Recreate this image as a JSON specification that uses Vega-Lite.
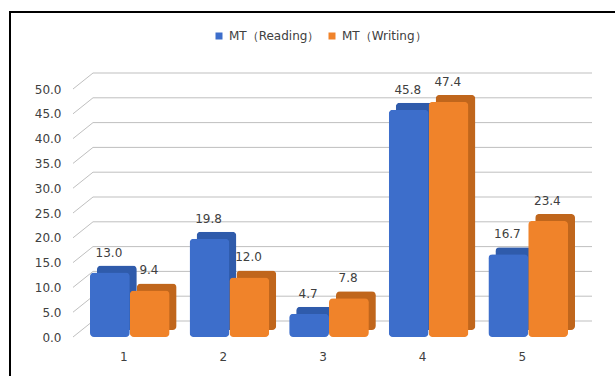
{
  "$schema": "https://vega.github.io/schema/vega-lite/v6.json",
  "width": 607,
  "height": 366,
  "autosize": {"type": "none"},
  "padding": {"left": 10, "top": 12, "right": -2, "bottom": -2},
  "background": "#ffffff",
  "config": {
    "view": {"stroke": "#000000", "strokeWidth": 2},
    "font": "DejaVu Sans",
    "axis": {"labelFont": "DejaVu Sans", "labelFontSize": 12, "labelColor": "#404040"},
    "legend": {"labelFont": "DejaVu Sans", "labelFontSize": 12, "labelColor": "#404040"}
  },
  "datasets": {
    "ticks": [
      {"v": 0}, {"v": 5}, {"v": 10}, {"v": 15}, {"v": 20}, {"v": 25},
      {"v": 30}, {"v": 35}, {"v": 40}, {"v": 45}, {"v": 50}
    ],
    "scores": [
      {"group": "1", "series": "MT（Reading）", "value": 13.0},
      {"group": "1", "series": "MT（Writing）", "value": 9.4},
      {"group": "2", "series": "MT（Reading）", "value": 19.8},
      {"group": "2", "series": "MT（Writing）", "value": 12.0},
      {"group": "3", "series": "MT（Reading）", "value": 4.7},
      {"group": "3", "series": "MT（Writing）", "value": 7.8},
      {"group": "4", "series": "MT（Reading）", "value": 45.8},
      {"group": "4", "series": "MT（Writing）", "value": 47.4},
      {"group": "5", "series": "MT（Reading）", "value": 16.7},
      {"group": "5", "series": "MT（Writing）", "value": 23.4}
    ]
  },
  "layer": [
    {
      "data": {"name": "ticks"},
      "mark": {"type": "rule", "color": "#bfbfbf", "strokeWidth": 1},
      "encoding": {
        "x": {"datum": 0, "type": "quantitative", "scale": {"domain": [0, 1], "range": [83, 582]}, "axis": null},
        "x2": {"datum": 1},
        "y": {"field": "v", "type": "quantitative", "scale": {"domain": [0, 50], "range": [309, 61], "nice": false}, "axis": null}
      }
    },
    {
      "data": {"name": "ticks"},
      "mark": {"type": "rule", "color": "#bfbfbf", "strokeWidth": 1, "y2Offset": -16},
      "encoding": {
        "x": {"datum": 0, "type": "quantitative", "scale": {"domain": [0, 1], "range": [63, 83]}, "axis": null},
        "x2": {"datum": 1},
        "y": {"field": "v", "type": "quantitative", "scale": {"domain": [0, 50], "range": [325, 77], "nice": false}, "axis": null},
        "y2": {"field": "v"}
      }
    },
    {
      "data": {"name": "scores"},
      "mark": {"type": "bar", "cornerRadius": 4},
      "encoding": {
        "x": {"field": "group", "type": "nominal", "scale": {"range": [64, 562], "paddingInner": 0.2, "paddingOuter": 0.1}, "axis": null},
        "xOffset": {"field": "series", "type": "nominal", "sort": ["MT（Reading）", "MT（Writing）"], "scale": {"range": [13, 92.68], "paddingInner": 0, "paddingOuter": 0}},
        "y": {"field": "value", "type": "quantitative", "scale": {"domain": [0, 50], "range": [318, 70], "nice": false}, "axis": null},
        "color": {"condition": {"test": "datum.series === 'MT（Reading）'", "value": "#2f5bab"}, "value": "#c0661c"}
      }
    },
    {
      "data": {"name": "scores"},
      "mark": {"type": "bar", "cornerRadius": 4},
      "encoding": {
        "x": {
          "field": "group", "type": "nominal",
          "scale": {"range": [64, 562], "paddingInner": 0.2, "paddingOuter": 0.1},
          "axis": {"title": null, "orient": "bottom", "offset": -41, "domain": false, "ticks": false, "labelPadding": 14, "labelAngle": 0}
        },
        "xOffset": {"field": "series", "type": "nominal", "sort": ["MT（Reading）", "MT（Writing）"], "scale": {"range": [6, 85.68], "paddingInner": 0, "paddingOuter": 0}},
        "y": {
          "field": "value", "type": "quantitative",
          "scale": {"domain": [0, 50], "range": [325, 77], "nice": false},
          "axis": {"title": null, "values": [0, 5, 10, 15, 20, 25, 30, 35, 40, 45, 50], "format": ".1f", "offset": -53, "labelPadding": 2, "ticks": false, "domain": false, "grid": false}
        },
        "color": {
          "field": "series", "type": "nominal",
          "scale": {"domain": ["MT（Reading）", "MT（Writing）"], "range": ["#3d6ecb", "#f0832a"]},
          "legend": {"title": null, "orient": "none", "direction": "horizontal", "legendX": 203, "legendY": 18, "symbolType": "square", "symbolSize": 49, "columnPadding": 6, "symbolStrokeWidth": 0}
        }
      }
    },
    {
      "data": {"name": "scores"},
      "mark": {"type": "text", "dy": -13, "baseline": "bottom", "fontSize": 12, "color": "#404040"},
      "encoding": {
        "x": {"field": "group", "type": "nominal", "scale": {"range": [64, 562], "paddingInner": 0.2, "paddingOuter": 0.1}, "axis": null},
        "xOffset": {"field": "series", "type": "nominal", "sort": ["MT（Reading）", "MT（Writing）"], "scale": {"range": [25, 65], "padding": 0}},
        "y": {"field": "value", "type": "quantitative", "scale": {"domain": [0, 50], "range": [325, 77], "nice": false}, "axis": null},
        "text": {"field": "value", "type": "quantitative", "format": ".1f"}
      }
    }
  ],
  "resolve": {
    "scale": {"x": "independent", "y": "independent", "xOffset": "independent"},
    "axis": {"x": "independent", "y": "independent"}
  }
}
